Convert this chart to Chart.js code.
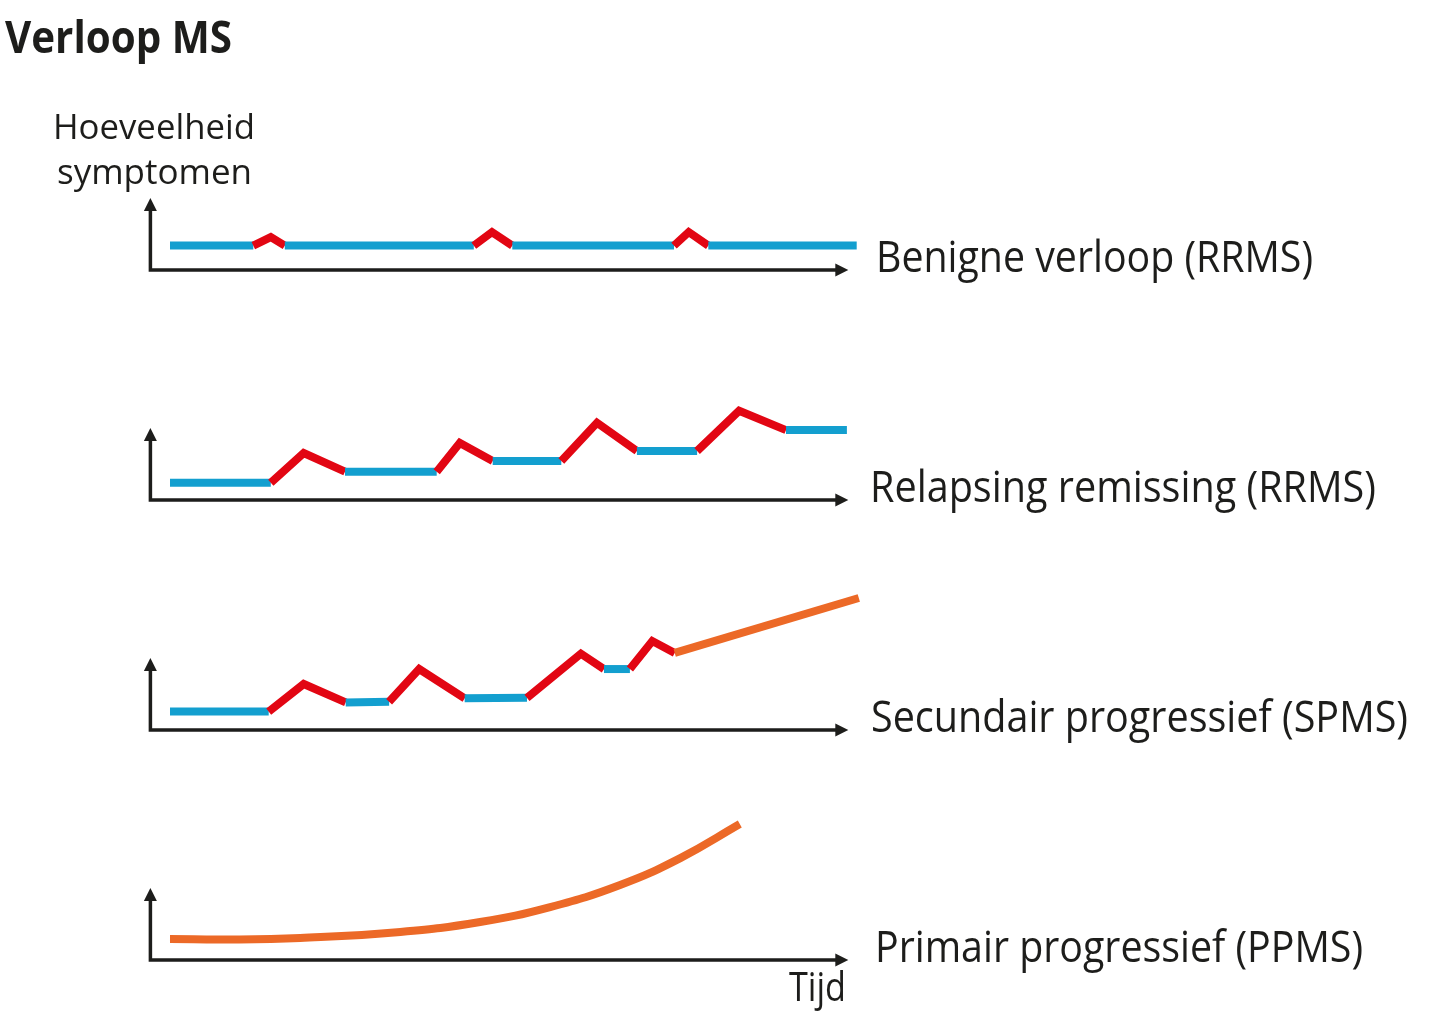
<!DOCTYPE html>
<html>
<head>
<meta charset="utf-8">
<script src="https://cdn.jsdelivr.net/npm/chart.js@4.4.1/dist/chart.umd.min.js"></script>
<style>
  html, body { margin: 0; padding: 0; background: #ffffff; }
  #wrap { position: relative; width: 1450px; height: 1015px; overflow: hidden; background: #ffffff; }
  #c { position: absolute; left: 0; top: 0; }
  .t { position: absolute; white-space: nowrap; color: #1d1d1b; font-family: "Open Sans", "Noto Sans", sans-serif;
       transform-origin: 0 0; line-height: 1.2; }
</style>
</head>
<body>
<div id="wrap">
  <canvas id="c" width="1450" height="1015"></canvas>
</div>
<script>
// ---------------- DATA ----------------
const chartTitle = 'Verloop MS';
const yAxisTitle = ['Hoeveelheid', 'symptomen'];
const xAxisTitle = 'Tijd';
const panelLabels = ['Benigne verloop (RRMS)', 'Relapsing remissing (RRMS)', 'Secundair progressief (SPMS)', 'Primair progressief (PPMS)'];

// phase of each segment: B = remission (blue), A = relapse (red), P = progression (orange)
const benigneTime     = [3, 14.9, 17.4, 19.4, 46.4, 49.0, 51.9, 75.0, 77.1, 79.9, 101.1];
const benigneSymptoms = [10.6, 10.6, 14.3, 10.6, 10.6, 16.5, 10.6, 10.6, 16.5, 10.6, 10.6];
const benignePhase    = ['B', 'A', 'A', 'B', 'A', 'A', 'B', 'A', 'A', 'B'];

const rrmsTime     = [3, 17.4, 22.1, 28.0, 41.1, 44.4, 49.1, 58.9, 64.0, 69.7, 78.3, 84.3, 91.0, 99.7];
const rrmsSymptoms = [7.5, 7.5, 20.4, 12.3, 12.3, 24.8, 17.0, 17.0, 33.6, 21.3, 21.3, 38.8, 30.4, 30.4];
const rrmsPhase    = ['B', 'A', 'A', 'B', 'A', 'A', 'B', 'A', 'A', 'B', 'A', 'A', 'B'];

const spmsTime     = [3, 17.1, 22.1, 28.1, 34.3, 38.6, 45.1, 54.0, 61.7, 65.0, 68.7, 71.9, 75.1, 101.4];
const spmsSymptoms = [8.0, 8.0, 20.0, 12.0, 12.3, 26.5, 13.8, 14.0, 33.2, 26.5, 26.5, 38.7, 33.5, 57.4];
const spmsPhase    = ['B', 'A', 'A', 'B', 'A', 'A', 'B', 'A', 'A', 'B', 'A', 'A', 'P'];

const ppmsTime     = [3, 11.6, 21.6, 35.9, 47.3, 57.3, 67.3, 75.9, 84.4];
const ppmsSymptoms = [9.1, 8.9, 9.6, 12.2, 16.5, 23.0, 32.6, 44.3, 59.1];
const ppmsPhase    = ['P', 'P', 'P', 'P', 'P', 'P', 'P', 'P'];

// ---------------- STYLE ----------------
const PHASE_COLORS = { B: '#139fcf', A: '#e20613', P: '#ec6927' };
const INK = '#1d1d1b';
const panelIds = ['p1', 'p2', 'p3', 'p4'];
const AXIS_X_START = 0.2, AXIS_X_END = 99.9, AXIS_Y_END = 31.3;

function build(timeArr, valArr, phaseArr, axisId) {
  return {
    data: timeArr.map((t, i) => ({ x: t, y: valArr[i] })),
    yAxisID: axisId,
    borderColor: PHASE_COLORS[phaseArr[0]],
    borderWidth: 8,
    borderCapStyle: 'butt',
    borderJoinStyle: 'miter',
    pointRadius: 0,
    pointHoverRadius: 0,
    fill: false,
    clip: false,
    segment: { borderColor: ctx => PHASE_COLORS[phaseArr[ctx.p0DataIndex]] }
  };
}

const datasets = [
  build(benigneTime, benigneSymptoms, benignePhase, 'p1'),
  build(rrmsTime, rrmsSymptoms, rrmsPhase, 'p2'),
  build(spmsTime, spmsSymptoms, spmsPhase, 'p3'),
  Object.assign(build(ppmsTime, ppmsSymptoms, ppmsPhase, 'p4'), { tension: 0.45, borderJoinStyle: 'round' })
];

const arrowAxes = {
  id: 'arrowAxes',
  afterDatasetsDraw(chart) {
    const ctx = chart.ctx, xs = chart.scales.x;
    panelIds.forEach(id => {
      const ys = chart.scales[id];
      const y0 = ys.getPixelForValue(0);
      const x0 = xs.getPixelForValue(AXIS_X_START);
      const xEnd = xs.getPixelForValue(AXIS_X_END);
      const yTop = ys.getPixelForValue(AXIS_Y_END);
      ctx.save();
      ctx.strokeStyle = INK; ctx.fillStyle = INK;
      ctx.lineWidth = 3.5; ctx.lineCap = 'butt'; ctx.lineJoin = 'miter';
      ctx.beginPath();
      ctx.moveTo(x0, yTop + 10);
      ctx.lineTo(x0, y0);
      ctx.lineTo(xEnd - 10, y0);
      ctx.stroke();
      ctx.beginPath();
      ctx.moveTo(xEnd, y0); ctx.lineTo(xEnd - 13, y0 - 6.5); ctx.lineTo(xEnd - 13, y0 + 6.5); ctx.closePath(); ctx.fill();
      ctx.beginPath();
      ctx.moveTo(x0, yTop); ctx.lineTo(x0 - 6.5, yTop + 13); ctx.lineTo(x0 + 6.5, yTop + 13); ctx.closePath(); ctx.fill();
      ctx.restore();
    });
  }
};

const yScale = (weight) => ({
  type: 'linear', min: 0, max: 100, display: false,
  position: 'left', stack: 'panels', stackWeight: 1, weight: weight
});

const chart = new Chart(document.getElementById('c'), {
  type: 'line',
  data: { datasets },
  options: {
    responsive: false,
    animation: false,
    devicePixelRatio: 1,
    layout: { padding: { left: 149, right: 601, top: 40, bottom: 55 } },
    plugins: { legend: { display: false }, tooltip: { enabled: false }, title: { display: false } },
    scales: {
      x: { type: 'linear', min: 0, max: 100, display: false },
      p1: yScale(4), p2: yScale(3), p3: yScale(2), p4: yScale(1)
    }
  },
  plugins: [arrowAxes]
});

// ---------------- TEXT (real HTML text) ----------------
const wrap = document.getElementById('wrap');
function addText(str, left, baseline, width, size, weight) {
  const el = document.createElement('div');
  el.className = 't';
  el.style.fontSize = size + 'px';
  el.style.fontWeight = weight || 400;
  el.textContent = str;
  const marker = document.createElement('span');
  marker.style.cssText = 'display:inline-block;width:0;height:0;vertical-align:baseline;';
  el.appendChild(marker);
  wrap.appendChild(el);
  el.style.left = left + 'px';
  el.style.top = '0px';
  const off = marker.offsetTop;
  el.style.top = (baseline - off) + 'px';
  const w = el.getBoundingClientRect().width;
  el.style.transform = 'scaleX(' + (width / w) + ')';
  return el;
}
function drawTexts() {
  addText(chartTitle, 5, 53, 227, 45, 700);
  addText(yAxisTitle[0], 53, 139, 202, 34);
  addText(yAxisTitle[1], 57, 184, 195, 34);
  const lx = [876, 870, 871, 875], lw = [437, 506, 537, 488];
  panelIds.forEach((id, i) => {
    const base = chart.scales[id].getPixelForValue(0) + 2;
    addText(panelLabels[i], lx[i], base, lw[i], 44);
  });
  addText(xAxisTitle, 789, 1001, 57, 41);
}
if (document.fonts && document.fonts.ready) { document.fonts.ready.then(drawTexts); } else { drawTexts(); }
</script>
</body>
</html>
